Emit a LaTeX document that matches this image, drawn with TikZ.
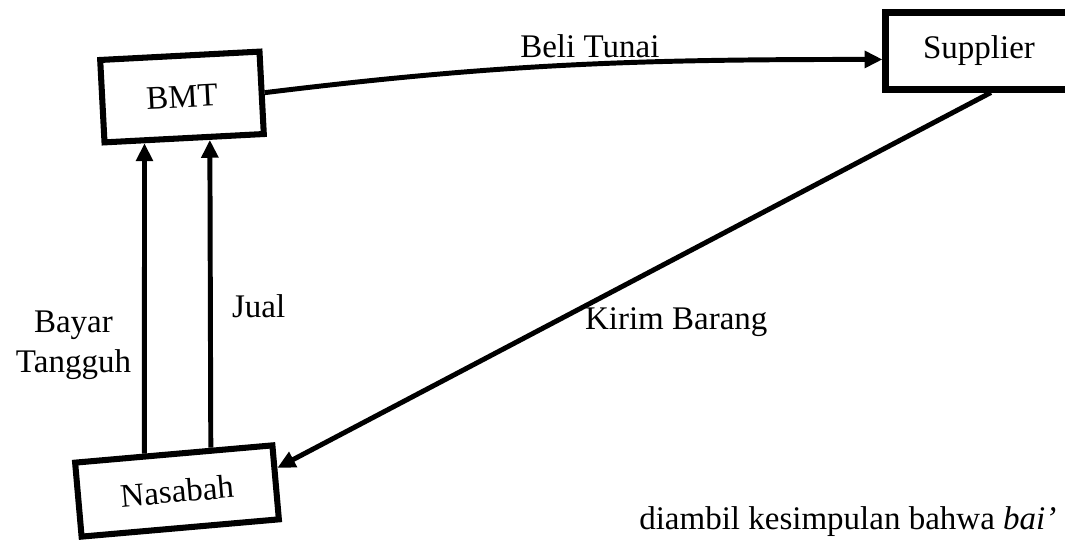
\documentclass[tikz,border=0pt]{standalone}
\usepackage{fontspec}
\setmainfont{Liberation Serif}
\usepackage{tikz}
\usetikzlibrary{arrows.meta,positioning}

\begin{document}
\begin{tikzpicture}[x=0.3636pt,y=0.3636pt,
  every node/.style={font=\fontsize{12}{14.5}\selectfont},
  box/.style={draw,line width=2.2pt,inner sep=0pt},
  arr/.style={line width=1.8pt,-{Triangle[length=6.5pt,width=6pt]}}]
  \path[use as bounding box,clip] (0,0) rectangle (1065,-540);
  % boxes
  \node[box,minimum width=58pt,minimum height=30pt,rotate=3] (bmt) at (182,-97) {BMT};
  \node[box,minimum width=68pt,minimum height=28pt] (supplier) at (979,-51) {Supplier};
  \node[box,minimum width=72pt,minimum height=27pt,rotate=5] (nasabah) at (177,-491) {Nasabah};
  % Beli Tunai
  \draw[arr] (bmt.east) to[out=7,in=180] node[pos=0.53,above,inner sep=1.5pt] (beli) {Beli Tunai} (supplier.185);
  % Kirim Barang
  \draw[arr] (supplier.286) -- node[pos=0.58,anchor=north west,inner sep=0pt,xshift=2pt,yshift=2pt] (kirim) {Kirim Barang} (nasabah.8);
  % Bayar Tangguh and Jual
  \draw[arr] (nasabah.126) -- node[pos=0.35,left=4pt,align=center,inner sep=0pt] (bayar) {Bayar\\Tangguh} (bmt.228);
  \draw[arr] (nasabah.47) -- node[pos=0.46,right=7pt,inner sep=0pt] (jual) {Jual} (bmt.300);
  % text of the page below
  \node[anchor=base east] (para) at (1066,-529) {diambil kesimpulan bahwa \textit{bai'}};
\end{tikzpicture}
\end{document}
